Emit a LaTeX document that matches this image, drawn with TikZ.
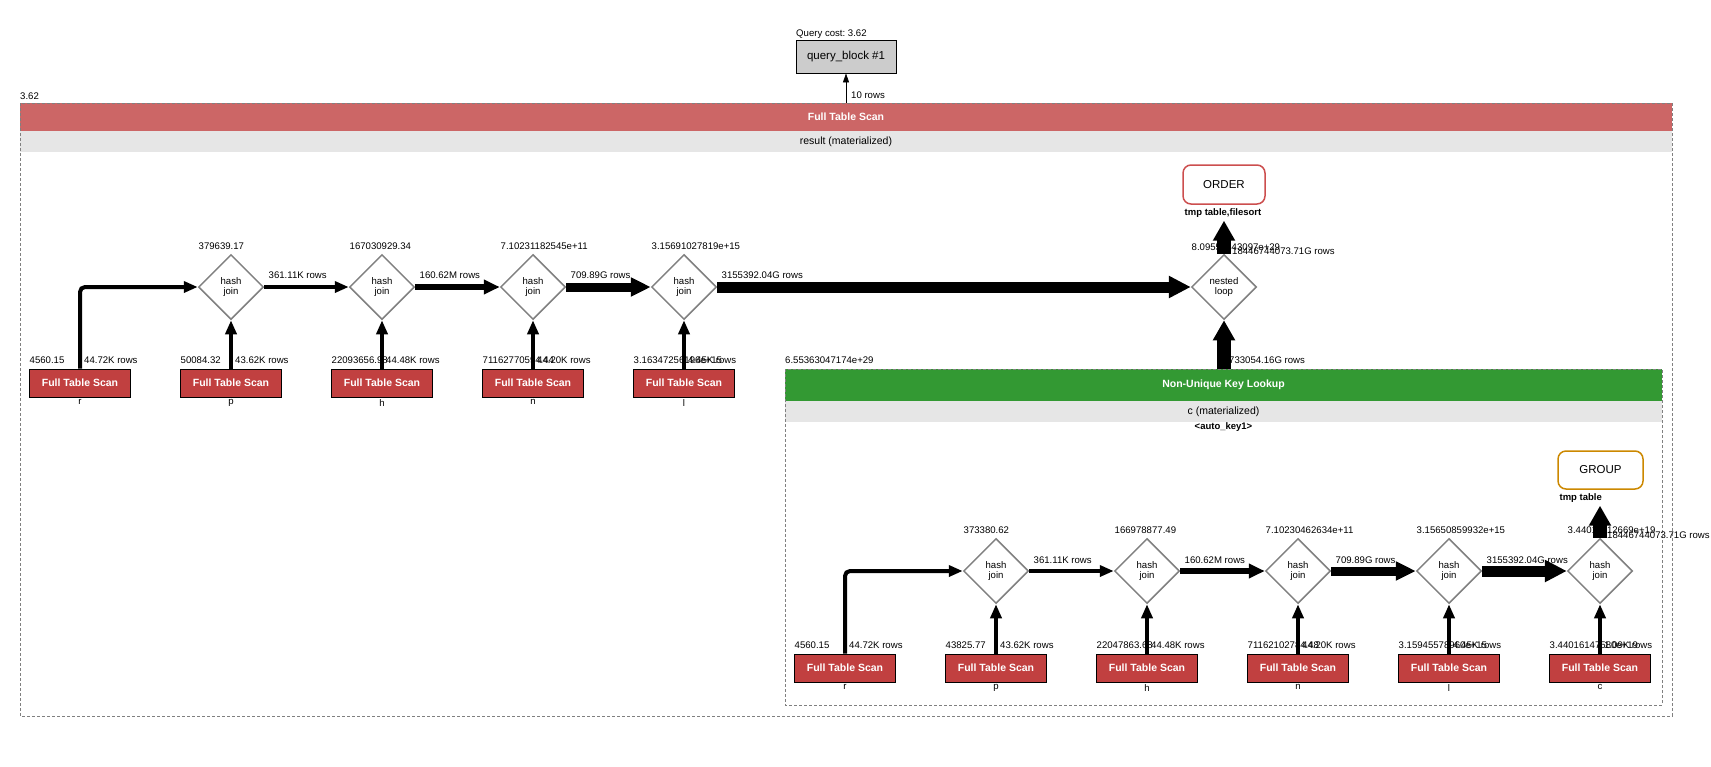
\documentclass[tikz,border=0pt]{standalone}
\usepackage{fontspec}
\setmainfont{Liberation Sans}
\usetikzlibrary{arrows.meta}
\usetikzlibrary{shapes.geometric}
\usetikzlibrary{positioning}
\definecolor{hdrred}{RGB}{204,102,102}
\definecolor{ftsred}{RGB}{193,64,64}
\definecolor{nukgreen}{RGB}{51,153,51}
\definecolor{bandgray}{RGB}{230,230,230}
\definecolor{qbgray}{RGB}{204,204,204}
\definecolor{ordred}{RGB}{204,78,78}
\definecolor{grpgold}{RGB}{204,136,0}
\definecolor{joingray}{RGB}{128,128,128}
\newcommand{\lblfont}{\fontsize{9.6}{10}\selectfont}
\newcommand{\boldlbl}{\bfseries\fontsize{9.5}{10}\selectfont}
\newcommand{\ftsfont}{\bfseries\fontsize{10.5}{12}\selectfont}
\frenchspacing

\begin{document}
\begin{tikzpicture}[x=1pt, y=-1pt,
	fts/.style={draw=black, line width=0.8pt, fill=ftsred, text=white, font=\ftsfont,
		minimum width=101pt, minimum height=28pt, inner sep=0pt},
	hjoin/.style={diamond, draw=joingray, line width=1.5pt, fill=white, aspect=1,
		minimum width=65pt, minimum height=65pt, inner sep=0pt, align=center, font=\lblfont},
	lbl/.style={font=\lblfont, inner sep=0pt, anchor=base west},
	tname/.style={font=\lblfont, inner sep=0pt},
	band/.style={inner sep=0pt, font=\fontsize{10.5}{12}\selectfont},
	boxline/.style={draw=joingray, line width=0.8pt, dash pattern=on 3pt off 2pt},
	oper/.style={draw, line width=1.5pt, rounded corners=8pt, fill=white, inner sep=0pt,
		font=\fontsize{11.5}{12}\selectfont},
	flow/.style n args={3}{line width=#1, -{Triangle[length=#2, width=#3]}}]
	\useasboundingbox (0,0) rectangle (1711,766);

	% Query block
	\node[lbl] (qcost) at (796,36) {Query cost: 3.62};
	\node[draw=black, line width=0.8pt, fill=qbgray, minimum width=100pt, minimum height=33pt,
		inner sep=0pt, font=\fontsize{11.5}{12}\selectfont] (qb) at (846,56.5) {query\_block \#1};

	% Result table
	\node[band, fill=hdrred, text=white, font=\ftsfont, minimum width=1652pt, minimum height=28pt]
		(res) at (846,117) {Full Table Scan};
	\node[band, fill=bandgray, minimum width=1652pt, minimum height=21pt]
		(resmat) at (846,141.5) {result (materialized)};
	\draw[boxline] (20,103) rectangle (1672,716);
	\node[lbl] (rescost) at (20,99) {3.62};
	\draw[-{Triangle[length=9pt, width=6pt]}, line width=0.8pt] (res.north) -- (qb.south);
	\node[lbl] at (851,98) {10 rows};

	% Outer scans
	\node[fts] (sr) at (80,383) {Full Table Scan};
	\node[tname, below=2pt of sr] (srn) {r};
	\node[fts] (sp) at (231,383) {Full Table Scan};
	\node[tname, below=2pt of sp] (spn) {p};
	\node[fts] (sh) at (382,383) {Full Table Scan};
	\node[tname, below=2pt of sh] (shn) {h};
	\node[fts] (sn) at (533,383) {Full Table Scan};
	\node[tname, below=2pt of sn] (snn) {n};
	\node[fts] (sl) at (684,383) {Full Table Scan};
	\node[tname, below=2pt of sl] (sln) {l};
	\node[lbl] at (29.5,363.5) {4560.15};
	\node[lbl] at (84,363.5) {44.72K rows};
	\node[lbl] at (180.5,363.5) {50084.32};
	\node[lbl] at (235,363.5) {43.62K rows};
	\node[lbl] at (331.5,363.5) {22093656.98};
	\node[lbl] at (386,363.5) {44.48K rows};
	\node[lbl] at (482.5,363.5) {71162770594.44};
	\node[lbl] at (537,363.5) {44.20K rows};
	\node[lbl] at (633.5,363.5) {3.16347256196e+15};
	\node[lbl] at (688,363.5) {4.45K rows};

	% Outer joins
	\node[hjoin] (j1) at (231,287) {hash\\join};
	\node[hjoin] (j2) at (382,287) {hash\\join};
	\node[hjoin] (j3) at (533,287) {hash\\join};
	\node[hjoin] (j4) at (684,287) {hash\\join};
	\node[hjoin] (nl) at (1224,287) {nested\\loop};
	\node[lbl] at (198.5,249) {379639.17};
	\node[lbl] at (349.5,249) {167030929.34};
	\node[lbl] at (500.5,249) {7.10231182545e+11};
	\node[lbl] at (651.5,249) {3.15691027819e+15};
	\node[lbl] at (1191.5,250) {8.09551443097e+29};
	\node[lbl] at (268.5,278.5) {361.11K rows};
	\node[lbl] at (419.5,278.5) {160.62M rows};
	\node[lbl] at (570.5,278.5) {709.89G rows};
	\node[lbl] at (721.5,278.5) {3155392.04G rows};
	\node[lbl] at (1232,254) {18446744073.71G rows};

	% Order
	\node[oper, draw=ordred, minimum width=82pt, minimum height=39pt] (ord) at (1224,184.5) {ORDER};
	\node[font=\boldlbl, inner sep=0pt, anchor=base] (ordtmp) at (1223,215.5) {tmp table,filesort};

	% Derived table c
	\node[lbl] at (785,363.5) {6.55363047174e+29};
	\node[lbl] at (1229,363.5) {733054.16G rows};
	\node[band, fill=nukgreen, text=white, font=\ftsfont, minimum width=877pt, minimum height=32pt]
		(nuk) at (1223.5,385) {Non-Unique Key Lookup};
	\node[band, fill=bandgray, minimum width=877pt, minimum height=21pt]
		(cmat) at (1223.5,411.5) {c (materialized)};
	\node[font=\boldlbl, inner sep=0pt, anchor=base] (ckey) at (1223.5,429.5) {<auto\_key1>};
	\draw[boxline] (785,369) rectangle (1662,705);

	% Inner scans
	\node[fts] (tr) at (845,668) {Full Table Scan};
	\node[tname, below=2pt of tr] (trn) {r};
	\node[fts] (tp) at (996,668) {Full Table Scan};
	\node[tname, below=2pt of tp] (tpn) {p};
	\node[fts] (th) at (1147,668) {Full Table Scan};
	\node[tname, below=2pt of th] (thn) {h};
	\node[fts] (tn) at (1298,668) {Full Table Scan};
	\node[tname, below=2pt of tn] (tnn) {n};
	\node[fts] (tl) at (1449,668) {Full Table Scan};
	\node[tname, below=2pt of tl] (tln) {l};
	\node[fts] (tc) at (1600,668) {Full Table Scan};
	\node[tname, below=2pt of tc] (tcn) {c};
	\node[lbl] at (794.5,648.5) {4560.15};
	\node[lbl] at (849,648.5) {44.72K rows};
	\node[lbl] at (945.5,648.5) {43825.77};
	\node[lbl] at (1000,648.5) {43.62K rows};
	\node[lbl] at (1096.5,648.5) {22047863.68};
	\node[lbl] at (1151,648.5) {44.48K rows};
	\node[lbl] at (1247.5,648.5) {71162102784.48};
	\node[lbl] at (1302,648.5) {44.20K rows};
	\node[lbl] at (1398.5,648.5) {3.15945578960e+15};
	\node[lbl] at (1453,648.5) {4.45K rows};
	\node[lbl] at (1549.5,648.5) {3.44016147580e+19};
	\node[lbl] at (1604,648.5) {1.09K rows};

	% Inner joins
	\node[hjoin] (k1) at (996,571) {hash\\join};
	\node[hjoin] (k2) at (1147,571) {hash\\join};
	\node[hjoin] (k3) at (1298,571) {hash\\join};
	\node[hjoin] (k4) at (1449,571) {hash\\join};
	\node[hjoin] (k5) at (1600,571) {hash\\join};
	\node[lbl] at (963.5,533.5) {373380.62};
	\node[lbl] at (1114.5,533.5) {166978877.49};
	\node[lbl] at (1265.5,533.5) {7.10230462634e+11};
	\node[lbl] at (1416.5,533.5) {3.15650859932e+15};
	\node[lbl] at (1567.5,533.5) {3.44016112669e+19};
	\node[lbl] at (1033.5,563.5) {361.11K rows};
	\node[lbl] at (1184.5,563.5) {160.62M rows};
	\node[lbl] at (1335.5,563.5) {709.89G rows};
	\node[lbl] at (1486.5,563.5) {3155392.04G rows};
	\node[lbl] at (1607,538.5) {18446744073.71G rows};

	% Group
	\node[oper, draw=grpgold, minimum width=85pt, minimum height=38pt] (grp) at (1600.5,470) {GROUP};
	\node[font=\boldlbl, inner sep=0pt, anchor=base east] (grptmp) at (1602,500.5) {tmp table};

	% Outer flows
	\draw[flow={4pt}{14pt}{11pt}, rounded corners=5pt] (sr.north) |- (j1.west);
	\draw[flow={4pt}{14pt}{11pt}] (sp.north) -- (j1.south);
	\draw[flow={4pt}{14pt}{11pt}] (j1.east) -- (j2.west);
	\draw[flow={4pt}{14pt}{11pt}] (sh.north) -- (j2.south);
	\draw[flow={6pt}{16pt}{14pt}] (j2.east) -- (j3.west);
	\draw[flow={4pt}{14pt}{11pt}] (sn.north) -- (j3.south);
	\draw[flow={9pt}{20pt}{18pt}] (j3.east) -- (j4.west);
	\draw[flow={4pt}{14pt}{11pt}] (sl.north) -- (j4.south);
	\draw[flow={11pt}{22pt}{21pt}] (j4.east) -- (nl.west);
	\draw[flow={14pt}{20pt}{21pt}] (nl.south |- nuk.north) -- (nl.south);
	\draw[flow={14pt}{20pt}{21pt}] (nl.north) -- ([yshift=-3pt]nl.north |- ordtmp.south);

	% Inner flows
	\draw[flow={4pt}{14pt}{11pt}, rounded corners=5pt] (tr.north) |- (k1.west);
	\draw[flow={4pt}{14pt}{11pt}] (tp.north) -- (k1.south);
	\draw[flow={4pt}{14pt}{11pt}] (k1.east) -- (k2.west);
	\draw[flow={4pt}{14pt}{11pt}] (th.north) -- (k2.south);
	\draw[flow={6pt}{16pt}{14pt}] (k2.east) -- (k3.west);
	\draw[flow={4pt}{14pt}{11pt}] (tn.north) -- (k3.south);
	\draw[flow={9pt}{20pt}{18pt}] (k3.east) -- (k4.west);
	\draw[flow={4pt}{14pt}{11pt}] (tl.north) -- (k4.south);
	\draw[flow={11pt}{22pt}{21pt}] (k4.east) -- (k5.west);
	\draw[flow={4pt}{14pt}{11pt}] (tc.north) -- (k5.south);
	\draw[flow={14pt}{20pt}{21pt}] (k5.north) -- ([yshift=-3pt]k5.north |- grptmp.south);
\end{tikzpicture}
\end{document}
